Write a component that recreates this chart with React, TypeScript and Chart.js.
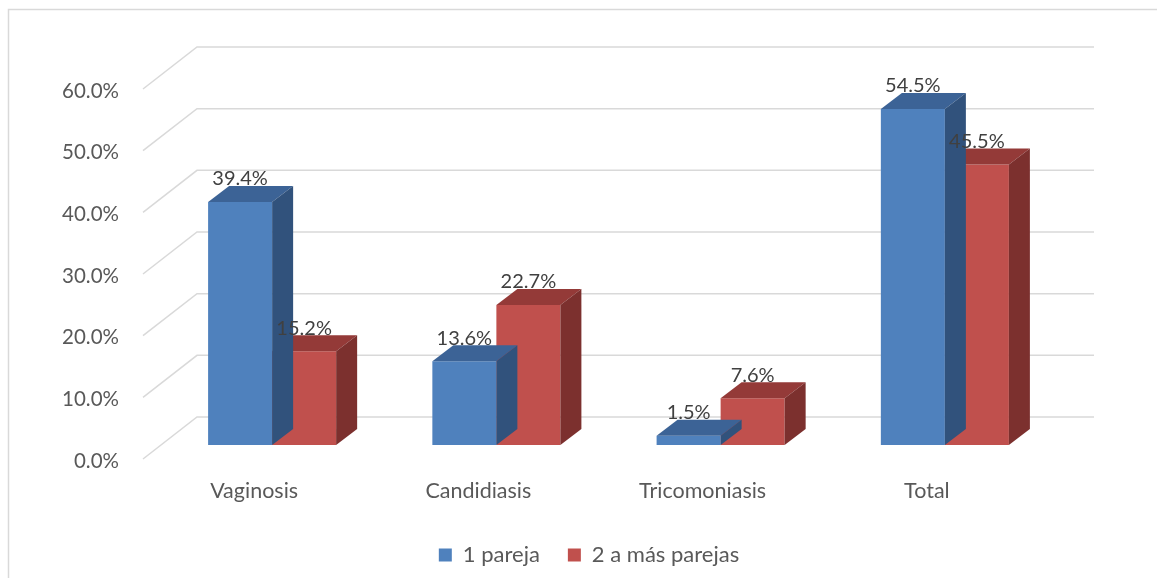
import React, { useEffect, useRef } from "react";
import { Chart, registerables } from "chart.js";

Chart.register(...registerables);

// ---- data ----
const categories = ["Vaginosis", "Candidiasis", "Tricomoniasis", "Total"];
const seriesNames = ["1 pareja", "2 a más parejas"];
const unaPareja = [39.4, 13.6, 1.5, 54.5];
const dosAMasParejas = [15.2, 22.7, 7.6, 45.5];
const yMin = 0;
const yMax = 60;
const yStep = 10;

// ---- styling ----
const FONT = "Lato, 'Open Sans', sans-serif";
const AXIS_COLOR = "#595959";
const LABEL_COLOR = "#404040";
const GRID_COLOR = "#D9D9D9";
const FRONT = { dx: -17, dy: 14 };
const BACK = { dx: 37, dy: -28 };
const DEPTH = { dx: 21, dy: -16 };
const LEGEND_LEFT = 121;
const faces = [
  { front: "#4F81BD", top: "#3C6396", side: "#31527C" },
  { front: "#C0504D", top: "#943A38", side: "#7C302E" },
];

const threeD = {
  id: "threeD",
  afterLayout(chart: any) {
    if (chart.legend) chart.legend.left = LEGEND_LEFT;
  },
  beforeDraw(chart: any) {
    const ctx = chart.ctx;
    ctx.save();
    ctx.fillStyle = "#ffffff";
    ctx.fillRect(0, 0, chart.width, chart.height);
    ctx.strokeStyle = GRID_COLOR;
    ctx.lineWidth = 1.5;
    ctx.beginPath();
    ctx.moveTo(8.5, chart.height + 5);
    ctx.lineTo(8.5, 9.5);
    ctx.lineTo(chart.width + 5, 9.5);
    ctx.stroke();
    ctx.restore();
  },
  beforeDatasetsDraw(chart: any) {
    const ctx = chart.ctx;
    const { left, right } = chart.chartArea;
    const y = chart.scales.y;
    ctx.save();
    ctx.strokeStyle = GRID_COLOR;
    ctx.lineWidth = 1.5;
    y.ticks.forEach((t: any) => {
      const py = y.getPixelForValue(t.value);
      ctx.beginPath();
      ctx.moveTo(left + FRONT.dx, py + FRONT.dy);
      ctx.lineTo(left + BACK.dx, py + BACK.dy);
      ctx.lineTo(right + BACK.dx, py + BACK.dy);
      ctx.stroke();
    });
    ctx.restore();
  },
  afterDatasetDraw(chart: any, args: any) {
    const ctx = chart.ctx;
    const c = faces[args.index % faces.length];
    ctx.save();
    args.meta.data.forEach((bar: any) => {
      const { x, y, base, width } = bar.getProps(["x", "y", "base", "width"], true);
      const l = x - width / 2;
      const r = x + width / 2;
      ctx.fillStyle = c.top;
      ctx.beginPath();
      ctx.moveTo(l, y);
      ctx.lineTo(l + DEPTH.dx, y + DEPTH.dy);
      ctx.lineTo(r + DEPTH.dx, y + DEPTH.dy);
      ctx.lineTo(r, y);
      ctx.closePath();
      ctx.fill();
      ctx.fillStyle = c.side;
      ctx.beginPath();
      ctx.moveTo(r, y);
      ctx.lineTo(r + DEPTH.dx, y + DEPTH.dy);
      ctx.lineTo(r + DEPTH.dx, base + DEPTH.dy);
      ctx.lineTo(r, base);
      ctx.closePath();
      ctx.fill();
    });
    ctx.restore();
  },
  afterDatasetsDraw(chart: any) {
    const ctx = chart.ctx;
    ctx.save();
    ctx.font = `20px ${FONT}`;
    ctx.fillStyle = LABEL_COLOR;
    ctx.textAlign = "center";
    ctx.textBaseline = "middle";
    chart.data.datasets.forEach((ds: any, i: number) => {
      const meta = chart.getDatasetMeta(i);
      meta.data.forEach((bar: any, j: number) => {
        const { x, y } = bar.getProps(["x", "y"], true);
        ctx.fillText(`${Number(ds.data[j]).toFixed(1)}%`, x, y - 23);
      });
    });
    ctx.restore();
  },
};

export default function App() {
  const ref = useRef<HTMLCanvasElement | null>(null);
  useEffect(() => {
    if (!ref.current) return;
    const chart = new Chart(ref.current, {
      type: "bar",
      data: {
        labels: categories,
        datasets: [
          { label: seriesNames[0], data: unaPareja, backgroundColor: faces[0].front, borderWidth: 0 },
          { label: seriesNames[1], data: dosAMasParejas, backgroundColor: faces[1].front, borderWidth: 0 },
        ],
      },
      options: {
        responsive: false,
        animation: false,
        layout: { padding: { left: 0, right: 100, top: 75, bottom: 2 } },
        datasets: { bar: { categoryPercentage: 0.571, barPercentage: 1.0 } },
        scales: {
          x: {
            grid: { display: false, drawTicks: false },
            border: { display: false },
            ticks: { color: AXIS_COLOR, font: { family: FONT, size: 21.5 }, padding: 33, labelOffset: -18, maxRotation: 0 },
            afterFit: (s: any) => { s.height = 71; },
          },
          y: {
            min: yMin,
            max: yMax,
            grid: { display: false, drawTicks: false },
            border: { display: false },
            ticks: {
              stepSize: yStep,
              color: AXIS_COLOR,
              font: { family: FONT, size: 20.5 },
              padding: 41,
              labelOffset: 16,
              callback: (v: any) => `${Number(v).toFixed(1)}%`,
            },
            afterFit: (s: any) => { s.width = 160; },
          },
        },
        plugins: {
          tooltip: { enabled: false },
          legend: {
            position: "bottom",
            labels: {
              color: AXIS_COLOR,
              font: { family: FONT, size: 22 },
              boxWidth: 13,
              boxHeight: 13,
              padding: 28,
            },
          },
        },
      },
      plugins: [threeD],
    });
    return () => chart.destroy();
  }, []);
  return (
    <div style={{ position: "fixed", left: 0, top: 0, width: 1157, height: 578 }}>
      <canvas ref={ref} width={1157} height={578} style={{ display: "block" }} />
    </div>
  );
}
